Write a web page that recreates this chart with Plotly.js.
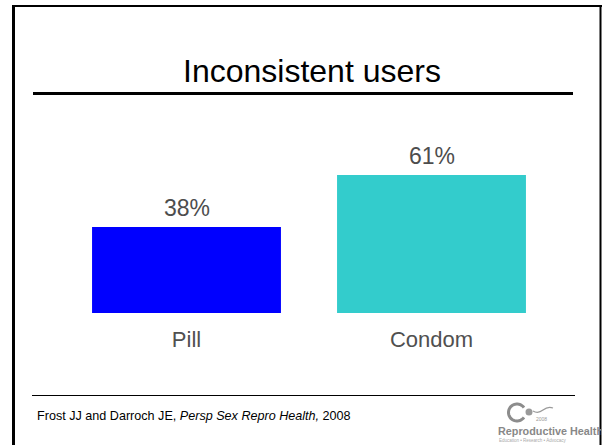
<!DOCTYPE html>
<html>
<head>
<meta charset="utf-8">
<script src="https://cdn.plot.ly/plotly-3.0.1.min.js"></script>
<style>
html,body{margin:0;padding:0;background:#fff;}
#chart{width:602px;height:445px;}
</style>
</head>
<body>
<div id="chart"></div>
<script>
const categories = ["Pill", "Condom"];
const values = [38, 61];
const valueLabels = ["38%", "61%"];
const barColors = ["#0000ff", "#33cccc"];
const titleText = "Inconsistent users";
const citationText = "Frost JJ and Darroch JE, <i>Persp Sex Repro Health,</i> 2008";

const W = 602, H = 445;
const px = x => x / W;
const py = y => 1 - y / H;
const FONT = "Liberation Sans, Arial, sans-serif";

function line(x0, y0, x1, y1, w, c) {
  return {type: "line", xref: "paper", yref: "paper",
    x0: px(x0), y0: py(y0), x1: px(x1), y1: py(y1),
    line: {color: c || "#000", width: w}};
}

function arcPath(cx, cy, r, a0, a1, n) {
  let d = "";
  for (let i = 0; i <= n; i++) {
    const a = (a0 + (a1 - a0) * i / n) * Math.PI / 180;
    const x = cx + r * Math.cos(a), y = cy - r * Math.sin(a);
    d += (i === 0 ? "M " : " L ") + px(x).toFixed(5) + " " + py(y).toFixed(5);
  }
  return d;
}

const shapes = [
  line(13.5, 5, 13.5, 445, 3),
  line(12, 6, 602, 6, 2),
  line(600.5, 5, 600.5, 445, 2),
  line(33, 93.5, 573, 93.5, 3),
  line(32, 395.5, 575, 395.5, 1),
  {type: "path", xref: "paper", yref: "paper", path: arcPath(517, 412.5, 8.5, 35, 325, 40),
    line: {color: "#8c8c8c", width: 3}},
  {type: "circle", xref: "paper", yref: "paper",
    x0: px(525.5), x1: px(532.5), y0: py(408.5), y1: py(415.5),
    fillcolor: "#9a9a9a", line: {width: 0}},
  {type: "path", xref: "paper", yref: "paper",
    path: "M " + px(533) + " " + py(411) + " Q " + px(538) + " " + py(414) + " " + px(543) + " " + py(410) +
          " Q " + px(548) + " " + py(406) + " " + px(553) + " " + py(408),
    line: {color: "#9a9a9a", width: 1.2}}
];

const annotations = [
  {xref: "paper", yref: "paper", x: px(312), y: py(71), xanchor: "center", yanchor: "middle",
    text: titleText, showarrow: false, font: {family: FONT, size: 32, color: "#000"}},
  {xref: "paper", yref: "paper", x: px(35), y: py(415.5), xanchor: "left", yanchor: "middle",
    text: citationText, showarrow: false, font: {family: FONT, size: 12.6, color: "#000"}},
  {xref: "paper", yref: "paper", x: px(541), y: py(418.5), xanchor: "center", yanchor: "middle",
    text: "2008", showarrow: false, font: {family: FONT, size: 5, color: "#999"}},
  {xref: "paper", yref: "paper", x: px(496), y: py(430.5), xanchor: "left", yanchor: "middle",
    text: "<b>Reproductive Health</b>", showarrow: false, font: {family: FONT, size: 10.8, color: "#888"}},
  {xref: "paper", yref: "paper", x: px(497), y: py(440.5), xanchor: "left", yanchor: "middle",
    text: "Education \u2022 Research \u2022 Advocacy", showarrow: false, font: {family: FONT, size: 4.5, color: "#aaa"}}
];

// value labels above bars, positioned by the data scale
categories.forEach((c, i) => {
  annotations.push({xref: "x", yref: "y", x: c, y: values[i], xanchor: "center", yanchor: "bottom",
    yshift: 4, text: valueLabels[i], showarrow: false,
    font: {family: FONT, size: 23, color: "#4d4d4d"}});
});

const data = [{
  type: "bar",
  x: categories,
  y: values,
  marker: {color: barColors, line: {width: 0}},
  hoverinfo: "none"
}];

const layout = {
  width: W, height: H,
  margin: {l: 0, r: 0, t: 0, b: 0, pad: 0},
  paper_bgcolor: "#fff", plot_bgcolor: "rgba(0,0,0,0)",
  showlegend: false,
  bargap: 0.229,
  xaxis: {
    domain: [px(64), px(554)],
    range: [-0.5, 1.5],
    showgrid: false, zeroline: false, showline: false, ticks: "",
    tickfont: {family: FONT, size: 22, color: "#505050"},
    ticklabelstandoff: 11,
    fixedrange: true
  },
  yaxis: {
    domain: [py(313), py(313 - 226.3)],
    range: [0, 100],
    visible: false,
    fixedrange: true
  },
  shapes: shapes,
  annotations: annotations
};

Plotly.newPlot("chart", data, layout, {staticPlot: true, displayModeBar: false});
</script>
</body>
</html>
